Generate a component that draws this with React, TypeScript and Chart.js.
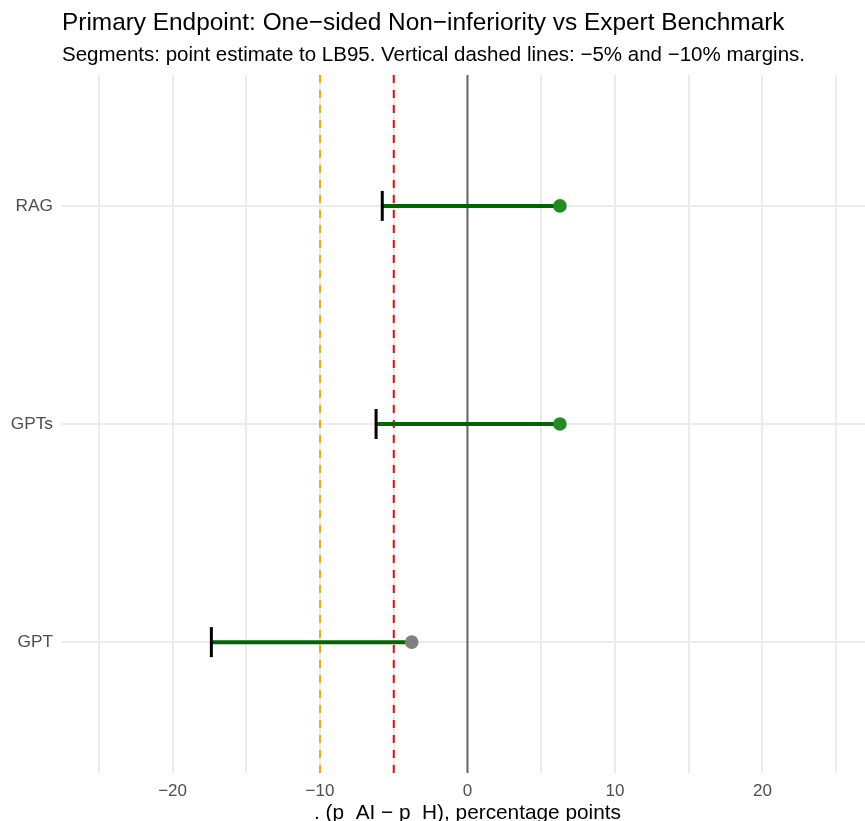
import React, { useEffect, useRef } from "react";
import { Chart, registerables } from "chart.js";

Chart.register(...registerables);

const categories = ["GPT", "GPTs", "RAG"];
const estimates = [-3.78, 6.27, 6.27];
const lowerBounds = [-17.37, -6.2, -5.78];
const margins = [-5, -10];
const xGridTicks = [-25, -20, -15, -10, -5, 0, 5, 10, 15, 20, 25];

const titleText = "Primary Endpoint: One\u2212sided Non\u2212inferiority vs Expert Benchmark";
const subtitleText = "Segments: point estimate to LB95. Vertical dashed lines: \u22125% and \u221210% margins.";
const xTitleText = ". (p  AI \u2212 p  H), percentage points";

const FONT = "'Liberation Sans', Arial, Helvetica, sans-serif";

export default function App() {
  const ref = useRef<HTMLCanvasElement>(null);
  useEffect(() => {
    const canvas = ref.current!;
    const yVals = categories.map((_, i) => i + 1);
    const segDatasets = categories.map((c, i) => ({
      label: "seg " + c,
      data: [
        { x: lowerBounds[i], y: yVals[i] },
        { x: estimates[i], y: yVals[i] },
      ],
      showLine: true,
      borderColor: "#006400",
      borderWidth: 4,
      pointRadius: 0,
      order: 3,
    }));
    const refLine = (x: number, color: string, dash: number[], order: number) => ({
      label: "ref " + x,
      data: [
        { x, y: 0.4 },
        { x, y: 3.6 },
      ],
      showLine: true,
      borderColor: color,
      borderWidth: 2,
      borderDash: dash,
      pointRadius: 0,
      order,
    });
    const textPlugin = {
      id: "texts",
      afterDraw(chart: any) {
        const ctx = chart.ctx;
        const area = chart.chartArea;
        ctx.save();
        ctx.fillStyle = "#000000";
        ctx.textBaseline = "alphabetic";
        ctx.textAlign = "left";
        ctx.font = `24.4px ${FONT}`;
        ctx.fillText(titleText, area.left, 30);
        ctx.font = `20.5px ${FONT}`;
        ctx.fillText(subtitleText, area.left, 61);
        ctx.textAlign = "center";
        ctx.font = `20.8px ${FONT}`;
        const xs = chart.scales.x;
        const cx = (xs.getPixelForValue(-27.5) + xs.getPixelForValue(27.5)) / 2;
        ctx.fillText(xTitleText, cx, 819);
        ctx.restore();
      },
    };
    const chart = new Chart(canvas, {
      type: "scatter",
      data: {
        datasets: [
          {
            label: "estimate",
            data: categories.map((_, i) => ({ x: estimates[i], y: yVals[i] })),
            pointRadius: 6.8,
            pointHoverRadius: 6.8,
            borderWidth: 0,
            backgroundColor: lowerBounds.map((lb) => (lb > margins[1] ? "#228B22" : "#808080")),
            order: 1,
          },
          {
            label: "LB95",
            data: categories.map((_, i) => ({ x: lowerBounds[i], y: yVals[i] })),
            pointStyle: "line",
            rotation: 90,
            pointRadius: 15,
            pointHoverRadius: 15,
            borderWidth: 3,
            borderColor: "#000000",
            order: 2,
          },
          ...segDatasets,
          refLine(0, "#666666", [], 4),
          refLine(margins[0], "#FF0000", [8, 7], 5),
          refLine(margins[1], "#FFA500", [8, 7], 5),
        ] as any,
      },
      options: {
        animation: false,
        responsive: false,
        devicePixelRatio: 1,
        layout: { autoPadding: false, padding: { top: 75, left: 0, right: 0, bottom: 0 } },
        plugins: {
          legend: { display: false },
          tooltip: { enabled: false },
          title: { display: false },
        },
        scales: {
          x: {
            type: "linear",
            min: -27.5,
            max: 26.96,
            afterBuildTicks: (scale: any) => {
              scale.ticks = xGridTicks.map((v) => ({ value: v }));
            },
            afterFit: (scale: any) => {
              scale.height = 48;
            },
            ticks: {
              autoSkip: false,
              maxRotation: 0,
              padding: 8,
              color: "#4D4D4D",
              font: { family: FONT, size: 17 },
              callback: (v: any) => {
                const n = Number(v);
                if (n % 10 !== 0) return "";
                return n < 0 ? "\u2212" + Math.abs(n) : String(n);
              },
            },
            grid: { color: "#EBEBEB", lineWidth: 2, drawTicks: false },
            border: { display: false },
          },
          y: {
            type: "linear",
            min: 0.4,
            max: 3.6,
            afterBuildTicks: (scale: any) => {
              scale.ticks = yVals.map((v) => ({ value: v }));
            },
            afterFit: (scale: any) => {
              scale.width = 62;
            },
            ticks: {
              autoSkip: false,
              padding: 9,
              color: "#4D4D4D",
              font: { family: FONT, size: 17.3 },
              callback: (v: any) => categories[Math.round(Number(v)) - 1] ?? "",
            },
            grid: { color: "#EBEBEB", lineWidth: 2, drawTicks: false },
            border: { display: false },
          },
        },
      } as any,
      plugins: [textPlugin],
    });
    return () => chart.destroy();
  }, []);
  return (
    <div style={{ position: "fixed", left: 0, top: 0, width: 865, height: 821, background: "#fff" }}>
      <canvas ref={ref} width={865} height={821} style={{ display: "block" }} />
    </div>
  );
}
